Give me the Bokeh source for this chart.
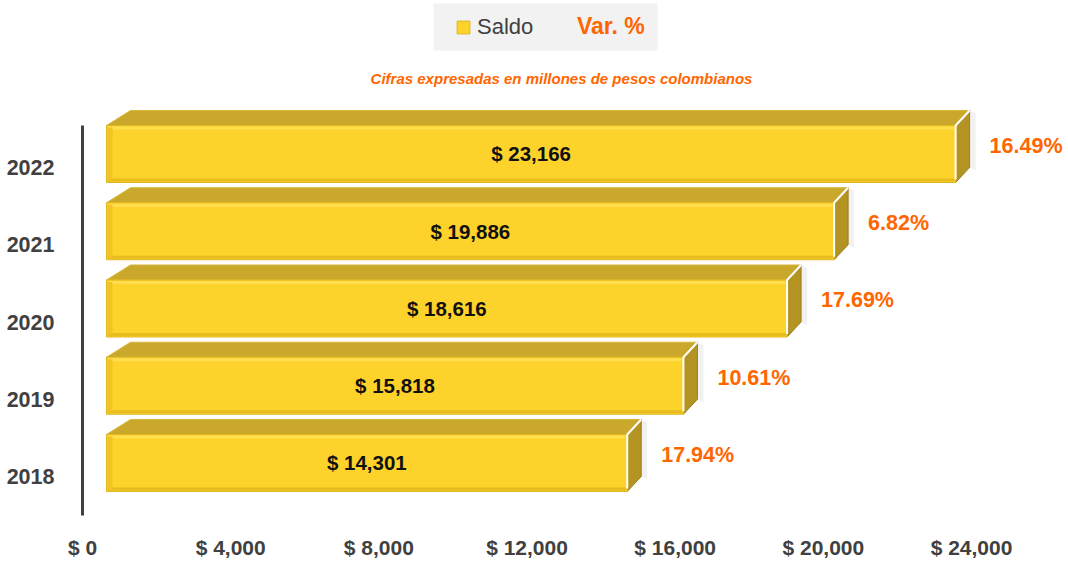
from bokeh.plotting import figure
from bokeh.models import (Range1d, FixedTicker, Label, Legend, LegendItem, BoxAnnotation,
                          ColumnDataSource, CDSView, IndexFilter)
from bokeh.core.properties import value
from bokeh.embed import file_html
from bokeh.resources import INLINE
import numpy as np

# ---- data ----
years = ["2018", "2019", "2020", "2021", "2022"]
saldo = [14301, 15818, 18616, 19886, 23166]
var_pct = [17.94, 10.61, 17.69, 6.82, 16.49]
x_ticks = [0, 4000, 8000, 12000, 16000, 20000, 24000]
subtitle = "Cifras expresadas en millones de pesos colombianos"

# ---- styles ----
FONT = "'Liberation Sans', Arial, sans-serif"
ORANGE = "#FF6600"
DARK = "#404040"
FRONT = "#FCD22B"
TOPC = "#C9A82C"
SIDE = "#B39322"

LEFT = 82                # frame left (px)
BOTTOM = 515             # frame bottom (px)
PXX = 24000 / 889.0      # data units per pixel (x)
PPY = 77.25              # pixels per category (y)
PXY = 1 / PPY
Y0 = 476                 # pixel row of the first category


def dx_(px):
    return (px - LEFT) * PXX


def dy_(py):
    return (Y0 - py) / PPY


y = np.arange(len(years), dtype=float)
v = np.array(saldo, dtype=float)
x0 = np.full_like(v, 24 * PXX)
x1 = v + 15 * PXX
yb = y - 0.194
yt = y + 0.544
dx = 14 * PXX
dy = 15 * PXY
dxl = 24 * PXX

src = ColumnDataSource(dict(
    x0=x0, x1=x1, yb=yb, yt=yt,
    xm=(x0 + x1) / 2, ym=y + 0.175,
    lab=[f"$ {s:,}" for s in saldo],
    xp=x1 + dx + 20 * PXX, yp=y + 0.28,
    pct=[f"{p:.2f}%" for p in var_pct],
))

p = figure(width=1068, height=561,
           x_range=Range1d(0, dx_(1068)), y_range=Range1d(dy_(BOTTOM), dy_(0)),
           output_backend="svg", toolbar_location=None,
           min_border_left=LEFT, min_border_right=0,
           min_border_top=0, min_border_bottom=561 - BOTTOM)
p.outline_line_color = None
p.grid.visible = False
p.background_fill_color = "white"

# legend background box
p.add_layout(BoxAnnotation(left=dx_(433), right=dx_(657), top=dy_(3), bottom=dy_(50),
                           fill_color="#F2F2F2", fill_alpha=1, line_color=None))

# shadow to the right of the side faces
p.patches(xs=[[b + dx, b + dx, b + dx + 6 * PXX, b + dx + 6 * PXX] for b in x1],
          ys=[[bb + dy, t + dy, t + dy - 3 * PXY, bb + dy - 3 * PXY] for bb, t in zip(yb, yt)],
          fill_color="#F1F1F1", line_color=None)
# top faces
p.patches(xs=[[a, a + dxl, b + dx, b] for a, b in zip(x0, x1)],
          ys=[[t, t + dy, t + dy, t] for t in yt],
          fill_color=TOPC, line_color="#D8B83A", line_width=1)
# side faces
p.patches(xs=[[b, b, b + dx, b + dx] for b in x1],
          ys=[[bb, t, t + dy, bb + dy] for bb, t in zip(yb, yt)],
          fill_color=SIDE, line_color="#9C7F1A", line_width=1)
# front faces
front = p.quad(left="x0", right="x1", bottom="yb", top="yt", source=src,
               fill_color=FRONT, line_color="#E0B71E", line_width=1)
# shading on front faces
p.quad(left=x0 + 2 * PXX, right=x1 - 2 * PXX, top=yt - 1 * PXY, bottom=yt - 4 * PXY,
       fill_color="#FFE25A", fill_alpha=0.8, line_color=None)
p.quad(left=x0 + 1 * PXX, right=x1 - 1 * PXX, top=yb + 4 * PXY, bottom=yb + 1 * PXY,
       fill_color="#E6BC1F", line_color=None)
p.quad(left=x0 + 1 * PXX, right=x0 + 6 * PXX, top=yt - 2 * PXY, bottom=yb + 2 * PXY,
       fill_color="#EFC423", line_color=None)
# white edge between front and side
p.multi_line(xs=[[b, b, b + dx] for b in x1],
             ys=[[bb + 3 * PXY, t, t + dy] for bb, t in zip(yb, yt)],
             line_color="white", line_width=2)

# hidden "Var. %" series (legend only)
varr = p.quad(left="x1", right="xp", bottom="yb", top="yt", source=src,
              fill_color="white", line_color="#DDDDDD",
              view=CDSView(filter=IndexFilter(indices=[])))

# value labels
p.text(x="xm", y="ym", text="lab", source=src,
       text_font=value(FONT), text_font_style="bold", text_font_size="20.5px",
       text_align="center", text_baseline="middle", text_color="#111111")
# percent labels
p.text(x="xp", y="yp", text="pct", source=src,
       text_font=value(FONT), text_font_style="bold", text_font_size="21.5px",
       text_align="left", text_baseline="middle", text_color=ORANGE)

# axes
p.xaxis.ticker = FixedTicker(ticks=x_ticks)
p.xaxis.major_label_overrides = {t: f"$ {t:,}" for t in x_ticks}
p.xaxis.axis_line_color = None
p.xaxis.major_tick_line_color = None
p.xaxis.minor_tick_line_color = None
p.xaxis.major_label_standoff = 14
p.xaxis.major_label_text_font = FONT
p.xaxis.major_label_text_font_style = "bold"
p.xaxis.major_label_text_font_size = "21px"
p.xaxis.major_label_text_color = DARK

p.yaxis.ticker = FixedTicker(ticks=list(range(len(years))))
p.yaxis.major_label_overrides = {i: yr for i, yr in enumerate(years)}
p.yaxis.bounds = (dy_(BOTTOM), dy_(125))
p.yaxis.axis_line_color = DARK
p.yaxis.axis_line_width = 3
p.yaxis.major_tick_line_color = None
p.yaxis.minor_tick_line_color = None
p.yaxis.major_label_standoff = 22
p.yaxis.major_label_text_font = FONT
p.yaxis.major_label_text_font_style = "bold"
p.yaxis.major_label_text_font_size = "21.5px"
p.yaxis.major_label_text_color = DARK

# subtitle
p.add_layout(Label(x=dx_(561), y=dy_(78), text=subtitle,
                   text_font="Liberation Sans", text_font_style="bold italic",
                   text_font_size="15px", text_color=ORANGE,
                   text_align="center", text_baseline="middle"))

# legends
legA = Legend(items=[LegendItem(label="Saldo", renderers=[front])],
              location=(455 - LEFT, BOTTOM - 40), background_fill_alpha=0,
              border_line_color=None, padding=0, margin=0,
              glyph_width=16, glyph_height=16, label_standoff=6,
              label_text_font=FONT, label_text_font_size="22px",
              label_text_color=DARK)
legB = Legend(items=[LegendItem(label="Var. %", renderers=[varr])],
              location=(553 - LEFT, BOTTOM - 40), background_fill_alpha=0,
              border_line_color=None, padding=0, margin=0,
              glyph_width=16, glyph_height=16, label_standoff=8,
              label_text_font=FONT, label_text_font_size="23px",
              label_text_font_style="bold", label_text_color=ORANGE)
p.add_layout(legA)
p.add_layout(legB)

open("out.html", "w").write(file_html(p, INLINE))
